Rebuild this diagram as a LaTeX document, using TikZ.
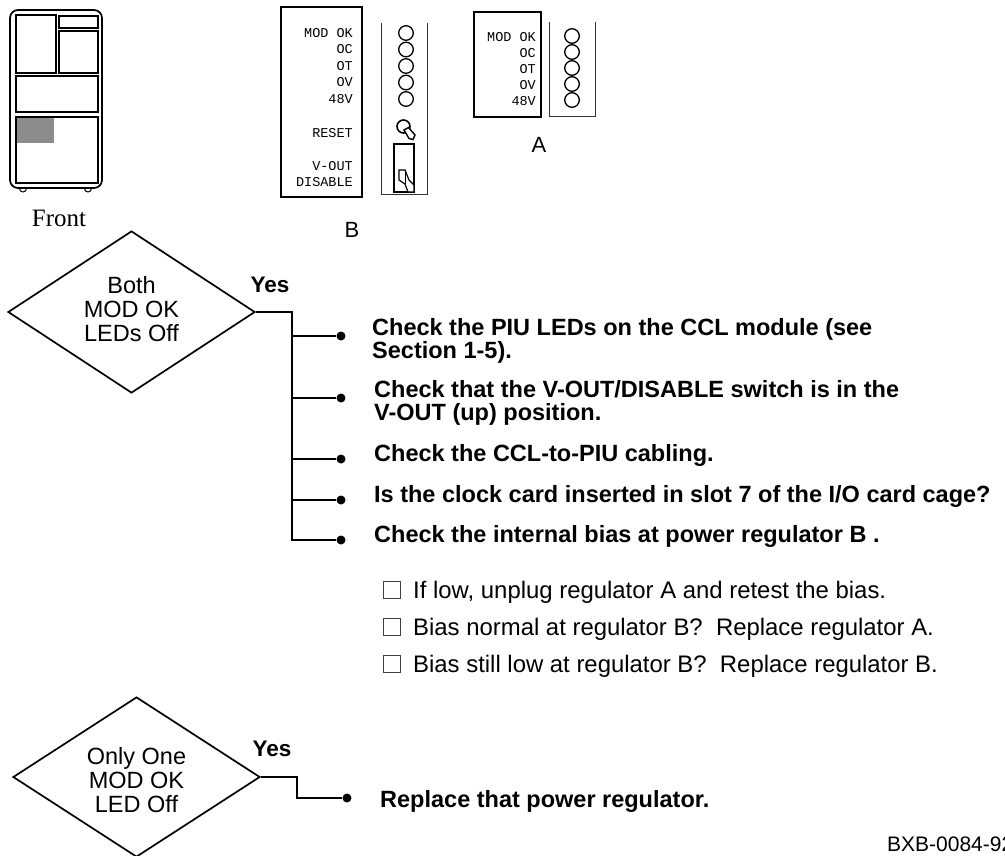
\documentclass[tikz,border=0pt]{standalone}
\usepackage{fontspec}
\setmainfont{Liberation Sans}
\newfontfamily\serifface{Liberation Serif}
\newfontfamily\monoface{Liberation Mono}
\usetikzlibrary{shapes.geometric}
\begin{document}
\begin{tikzpicture}[x=1pt,y=-1pt,
  decision/.style={draw, diamond, line width=1.7pt, inner sep=0pt, aspect=1.52,
    minimum width=247pt, minimum height=162pt, align=center,
    font=\fontsize{23.5}{24}\selectfont},
  yeslbl/.style={font=\bfseries\fontsize{22.5}{24}\selectfont, inner sep=0pt},
  conn/.style={line width=1.3pt},
  bullet/.style={circle, fill=black, inner sep=0pt, minimum size=9pt},
  item/.style={anchor=west, align=left, inner sep=0pt, font=\bfseries\fontsize{23.5}{23}\selectfont},
  subitem/.style={anchor=west, inner sep=0pt, font=\fontsize{23.9}{24}\selectfont},
  chk/.style={draw=black!75, line width=0.7pt, minimum size=17pt, inner sep=0pt},
  lbl/.style={anchor=base east, inner sep=0pt, font=\monoface\fontsize{13.5}{14}\selectfont},
  panel/.style={line width=2.2pt},
  strip/.style={line width=0.9pt, black!80},
  led/.style={line width=1.3pt},
  cab/.style={line width=1.3pt},
  bigletter/.style={inner sep=0pt, font=\fontsize{22}{24}\selectfont}
]
\useasboundingbox (0,0) rectangle (1005,855);

% ---------- Front cabinet ----------
\fill[black!45] (16,117) rectangle (54,143);
\draw[line width=1.7pt, rounded corners=8pt] (10,10) rectangle (102,188);
\draw[cab] (16,15) rectangle (56,73);
\draw[cab] (59,16) rectangle (98,28);
\draw[cab] (59,31) rectangle (98,73);
\draw[cab] (16,76) rectangle (98,112);
\draw[cab] (16,117) rectangle (98,183);
\draw[line width=1pt] (19.5,188.5) arc[start angle=180, end angle=0, radius=3.5];
\draw[line width=1pt] (84.5,188.5) arc[start angle=180, end angle=0, radius=3.5];
\node[inner sep=0pt, font=\serifface\fontsize{25}{28}\selectfont] (front) at (59,218) {Front};

% ---------- Regulator B ----------
\draw[panel] (281,7) rectangle (362,197);
\node[lbl] (bl1) at (353,37) {MOD OK};
\node[lbl] (bl2) at (353,53.5) {OC};
\node[lbl] (bl3) at (353,70) {OT};
\node[lbl] (bl4) at (353,86.5) {OV};
\node[lbl] (bl5) at (353,103) {48V};
\node[lbl] (bl6) at (353,137) {RESET};
\node[lbl] (bl7) at (353,170) {V-OUT};
\node[lbl] (bl8) at (353,186) {DISABLE};
\draw[strip] (381,23) -- (381,194) -- (427,194) -- (427,23);
\foreach \yy in {33,49.5,66,82.5,99} \draw[led] (406,\yy) circle[radius=7.3];
% reset knob
\draw[line width=1.6pt] (403.5,126.5) circle[radius=6.5];
\filldraw[fill=white, line width=1.4pt] (404,130) -- (408.5,127.5) -- (415,135) -- (413,139.5) -- (409,138.5) -- cycle;
% toggle switch
\draw[line width=1.4pt] (394,144) rectangle (414,192);
\filldraw[fill=white, line width=1.2pt] (399,170) -- (405,170) -- (409,180) -- (414,185) -- (414,192) -- (408,192) -- (405,184) -- (399,180) -- cycle;
\draw[line width=1pt] (405,170) -- (405,184);
\node[bigletter] (labB) at (352,230) {B};

% ---------- Regulator A ----------
\draw[panel] (474,12) rectangle (541,117);
\node[lbl] (al1) at (536,41) {MOD OK};
\node[lbl] (al2) at (536,57) {OC};
\node[lbl] (al3) at (536,73) {OT};
\node[lbl] (al4) at (536,89) {OV};
\node[lbl] (al5) at (536,105) {48V};
\draw[strip] (549,22) -- (549,116) -- (595,116) -- (595,22);
\foreach \yy in {36,52,68,84,100} \draw[led] (572,\yy) circle[radius=7.3];
\node[bigletter] (labA) at (539,145) {A};

% ---------- Decision 1 ----------
\node[decision] (d1) at (131.5,312) {Both\\MOD OK\\LEDs Off\rule[-6pt]{0pt}{6pt}};
\node[yeslbl] (yes1) at (270,285) {Yes};
\coordinate (j1) at (292,312);
\coordinate (j1end) at (292,540);
\node[bullet] (b1) at (341,336) {};
\node[bullet] (b2) at (341,398) {};
\node[bullet] (b3) at (341,459) {};
\node[bullet] (b4) at (341,500) {};
\node[bullet] (b5) at (341,540) {};
\draw[conn] (d1.east) -- (j1) -- (j1end) -- (b5);
\foreach \b in {b1,b2,b3,b4} \draw[conn] (\b -| j1) -- (\b);

\node[item] (t1) at (372,341) {Check the PIU LEDs on the CCL module (see\\Section 1-5).};
\node[item] (t2) at (374,403) {Check that the V-OUT/DISABLE switch is in the\\V-OUT (up) position.};
\node[item] (t3) at (374,455) {Check the CCL-to-PIU cabling.};
\node[item] (t4) at (374,496) {Is the clock card inserted in slot 7 of the I/O card cage?};
\node[item] (t5) at (374,536) {Check the internal bias at power regulator B .};

\node[chk] (c1) at (391.5,590) {};
\node[chk] (c2) at (391.5,627) {};
\node[chk] (c3) at (391.5,664) {};
\node[subitem] (s1) at (413,592) {If low, unplug regulator A and retest the bias.};
\node[subitem] (s2) at (413,629) {Bias normal at regulator B?\ \ Replace regulator A.};
\node[subitem] (s3) at (413,666) {Bias still low at regulator B?\ \ Replace regulator B.};

% ---------- Decision 2 ----------
\node[decision, minimum height=160pt] (d2) at (136.5,777) {\rule{0pt}{23pt}Only One\\MOD OK\\LED Off};
\node[yeslbl] (yes2) at (272,749) {Yes};
\coordinate (j2) at (297,777);
\node[bullet] (b6) at (347,798) {};
\draw[conn] (d2.east) -- (j2) |- (b6);
\node[item] (t6) at (380,801) {Replace that power regulator.};

\node[anchor=base west, inner sep=0pt, font=\fontsize{21}{22}\selectfont] (code) at (887,851) {BXB-0084-92};
\end{tikzpicture}
\end{document}
